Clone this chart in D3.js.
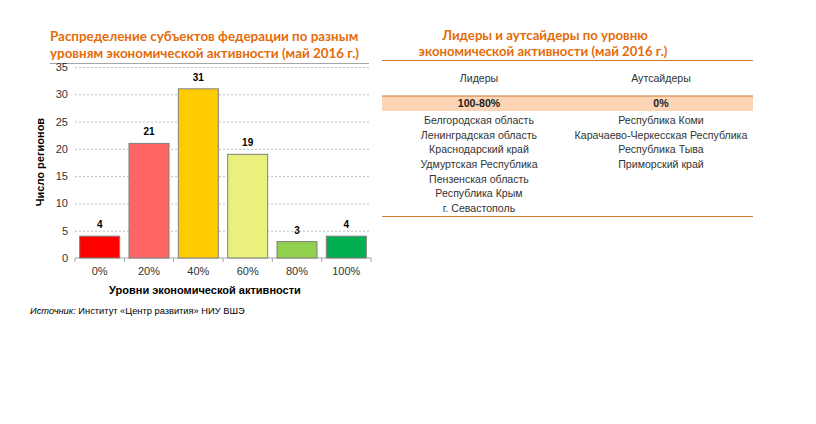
<!DOCTYPE html>
<html>
<head>
<meta charset="utf-8">
<script src="https://cdn.jsdelivr.net/npm/d3@7"></script>
<style>
  body { margin: 0; background: #fff; }
  svg { display: block; }
</style>
</head>
<body>
<div id="svg-container"></div>
<script>
const categories = ['0%', '20%', '40%', '60%', '80%', '100%']
const counts = [4, 21, 31, 19, 3, 4]
const barColors = ['#ff0000', '#ff6666', '#ffcc00', '#e9f07c', '#92d050', '#00b050']
const yTicks = [0, 5, 10, 15, 20, 25, 30, 35]

const leaders = [
  'Белгородская область',
  'Ленинградская область',
  'Краснодарский край',
  'Удмуртская Республика',
  'Пензенская область',
  'Республика Крым',
  'г. Севастополь',
]
const outsiders = [
  'Республика Коми',
  'Карачаево-Черкесская Республика',
  'Республика Тыва',
  'Приморский край',
]

const orange = '#e46c0a'
const titleFont = 'Lato, "Open Sans", sans-serif'
const bodyFont = '"Liberation Sans", Arial, sans-serif'

const svg = d3
  .select('#svg-container')
  .append('svg')
  .attr('width', 816)
  .attr('height', 424)

// left title
const leftTitle = svg
  .append('text')
  .attr('text-anchor', 'start')
  .attr('fill', orange)
  .style('font-family', titleFont)
  .style('font-weight', 700)
  .style('font-size', '13.4px')
leftTitle.append('tspan').attr('x', 50).attr('y', 41).text('Распределение субъектов федерации по разным')
leftTitle.append('tspan').attr('x', 50).attr('y', 58).text('уровням экономической активности (май 2016 г.)')

svg
  .append('line')
  .attr('x1', 50)
  .attr('x2', 369)
  .attr('y1', 63.5)
  .attr('y2', 63.5)
  .attr('stroke', '#a6a6a6')

// chart
const marginLeft = 75
const plotRight = 371
const plotTop = 67
const plotBottom = 258

const xScale = d3
  .scaleBand()
  .domain(categories)
  .range([marginLeft, plotRight])

const yScale = d3.scaleLinear().domain([0, 35]).range([plotBottom, plotTop])

const yAxis = svg
  .append('g')
  .attr('transform', `translate(${marginLeft}, 0)`)
  .call(
    d3
      .axisLeft(yScale)
      .tickValues(yTicks)
      .tickSize(-(plotRight - marginLeft))
      .tickPadding(7),
  )
yAxis.select('.domain').remove()
yAxis
  .selectAll('.tick line')
  .attr('stroke', '#bfbfbf')
  .attr('stroke-dasharray', '2,2')
  .filter(d => d === 0)
  .remove()
yAxis
  .selectAll('.tick text')
  .attr('fill', '#333')
  .style('font-family', bodyFont)
  .style('font-size', '11px')

// x axis
const xAxisG = svg.append('g').attr('transform', `translate(0, ${plotBottom})`)
xAxisG
  .append('line')
  .attr('x1', marginLeft)
  .attr('x2', plotRight)
  .attr('stroke', '#a6a6a6')
const step = xScale.step()
const boundaries = d3.range(categories.length + 1).map(i => marginLeft + i * step)
xAxisG
  .selectAll('.xtick')
  .data(boundaries)
  .join('line')
  .attr('x1', d => d)
  .attr('x2', d => d)
  .attr('y1', 0)
  .attr('y2', 4)
  .attr('stroke', '#a6a6a6')
xAxisG
  .selectAll('.xlabel')
  .data(categories)
  .join('text')
  .attr('x', d => xScale(d) + step / 2)
  .attr('y', 17)
  .attr('text-anchor', 'middle')
  .attr('fill', '#333')
  .style('font-family', bodyFont)
  .style('font-size', '11px')
  .text(d => d)

// bars
const barWidth = 40
svg
  .append('g')
  .selectAll('rect')
  .data(counts)
  .join('rect')
  .attr('x', (d, i) => xScale(categories[i]) + step / 2 - barWidth / 2)
  .attr('y', d => yScale(d))
  .attr('width', barWidth)
  .attr('height', d => plotBottom - yScale(d))
  .attr('fill', (d, i) => barColors[i])
  .attr('stroke', '#7f7f7f')
  .attr('stroke-width', 1)

svg
  .append('g')
  .selectAll('text')
  .data(counts)
  .join('text')
  .attr('x', (d, i) => xScale(categories[i]) + step / 2)
  .attr('y', d => yScale(d) - 8)
  .attr('text-anchor', 'middle')
  .style('font-family', bodyFont)
  .style('font-weight', 700)
  .style('font-size', '10px')
  .text(d => d)

svg
  .append('text')
  .attr('x', 205)
  .attr('y', 294)
  .attr('text-anchor', 'middle')
  .style('font-family', bodyFont)
  .style('font-weight', 700)
  .style('font-size', '11px')
  .text('Уровни экономической активности')

svg
  .append('text')
  .attr('transform', `translate(44, ${162}) rotate(-90)`)
  .attr('text-anchor', 'middle')
  .style('font-family', bodyFont)
  .style('font-weight', 700)
  .style('font-size', '11px')
  .text('Число регионов')

const source = svg
  .append('text')
  .attr('x', 30)
  .attr('y', 314)
  .style('font-family', bodyFont)
  .style('font-size', '9.3px')
source.append('tspan').style('font-style', 'italic').text('Источник:')
source.append('tspan').text(' Институт «Центр развития» НИУ ВШЭ')

// right table
const rightTitle = svg
  .append('text')
  .attr('text-anchor', 'middle')
  .attr('fill', orange)
  .style('font-family', titleFont)
  .style('font-weight', 700)
  .style('font-size', '13.2px')
rightTitle.append('tspan').attr('x', 545).attr('y', 40).text('Лидеры и аутсайдеры по уровню')
rightTitle.append('tspan').attr('x', 543).attr('y', 56).text('экономической активности (май 2016 г.)')

const tableLeft = 382
const tableRight = 753
const colLeft = 479
const colRight = 661

svg
  .append('rect')
  .attr('x', tableLeft)
  .attr('y', 96)
  .attr('width', tableRight - tableLeft)
  .attr('height', 15)
  .attr('fill', '#fbd5b5')

const hLines = [60.5, 96, 216.5]
svg
  .selectAll('.hline')
  .data(hLines)
  .join('line')
  .attr('x1', tableLeft)
  .attr('x2', tableRight)
  .attr('y1', d => d)
  .attr('y2', d => d)
  .attr('stroke', '#d07a32')
  .attr('stroke-width', 1.2)

const tableText = (x, y, txt, bold) =>
  svg
    .append('text')
    .attr('x', x)
    .attr('y', y)
    .attr('text-anchor', 'middle')
    .attr('fill', bold ? '#222' : '#333')
    .style('font-family', bodyFont)
    .style('font-size', '10.6px')
    .style('font-weight', bold ? 700 : 400)
    .text(txt)

tableText(colLeft, 82, 'Лидеры')
tableText(colRight, 82, 'Аутсайдеры')
tableText(colLeft, 107, '100-80%', true)
tableText(colRight, 107, '0%', true)

const rowY = d3.scaleLinear().domain([0, 6]).range([124, 212])
leaders.forEach((d, i) => tableText(colLeft, rowY(i), d))
outsiders.forEach((d, i) => tableText(colRight, rowY(i), d))
</script>
</body>
</html>
